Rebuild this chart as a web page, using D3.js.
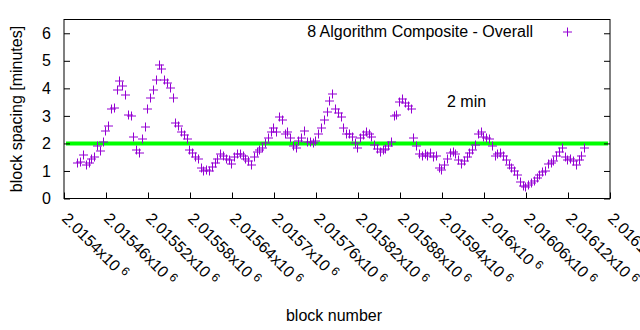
<!DOCTYPE html>
<html>
<head>
<meta charset="utf-8">
<script src="https://cdn.jsdelivr.net/npm/d3@7"></script>
<style>
  body { margin: 0; background: #fff; }
  svg text { font-family: "Liberation Sans", Arial, sans-serif; font-size: 16px; fill: #000; }
</style>
</head>
<body>
<div id="chart-area"></div>
<script>
// block spacing (minutes), sampled every 4 blocks starting at firstBlock
var firstBlock = 2015419;
var blockStep = 4;
var spacing = [
    1.30,1.32,1.58,1.22,1.30,1.42,1.52,1.92,1.72,2.05,
    2.45,2.65,3.25,3.30,3.95,4.25,4.10,3.75,3.05,3.00,
    2.25,1.75,1.65,2.15,2.60,3.25,3.65,3.95,4.30,4.85,
    4.70,4.30,4.20,4.00,3.65,2.75,2.65,2.40,2.30,2.15,
    1.75,1.65,1.50,1.45,1.10,1.00,1.05,1.00,1.15,1.30,
    1.45,1.60,1.55,1.45,1.40,1.25,1.50,1.60,1.60,1.55,
    1.45,1.35,1.20,1.50,1.70,1.75,1.85,2.00,2.20,2.40,
    2.55,2.40,2.95,2.85,2.35,2.40,2.20,1.90,1.85,2.10,
    2.20,2.45,2.05,2.05,2.00,2.10,2.35,2.55,2.85,3.15,
    3.55,3.80,3.25,3.10,2.95,2.55,2.35,2.35,2.25,2.00,
    1.85,2.20,2.30,2.40,2.35,2.25,1.95,1.80,1.70,1.75,
    1.80,1.90,2.05,3.00,3.05,3.50,3.60,3.45,3.35,3.25,
    2.20,1.90,1.60,1.55,1.60,1.55,1.65,1.50,1.55,1.10,
    1.05,1.20,1.45,1.65,1.70,1.60,1.40,1.25,1.35,1.50,
    1.65,1.75,1.95,2.35,2.40,2.25,2.20,2.15,1.90,1.55,
    1.60,1.65,1.55,1.40,1.20,1.10,1.00,0.85,0.60,0.45,
    0.40,0.50,0.55,0.65,0.75,0.85,0.95,1.00,1.25,1.30,
    1.35,1.55,1.70,1.85,1.50,1.40,1.45,1.35,1.20,1.40,
    1.55,1.85
];
var blocks = spacing.map(function(v, i){ return firstBlock + i * blockStep; });

var xTicks = [2015400,2015460,2015520,2015580,2015640,2015700,2015760,
              2015820,2015880,2015940,2016000,2016060,2016120,2016180];
var xTickLabels = ["2.0154","2.01546","2.01552","2.01558","2.01564","2.0157","2.01576",
                   "2.01582","2.01588","2.01594","2.016","2.01606","2.01612","2.01618"];
var yTicks = [0,1,2,3,4,5,6];
var targetSpacing = 2;
var seriesName = "8 Algorithm Composite - Overall";

var width = 640, height = 330;
var margin = { top: 19.5, right: 30, bottom: 132, left: 64 };
var plotW = width - margin.left - margin.right,
    plotH = height - margin.top - margin.bottom;

var x = d3.scaleLinear().domain([2015400, 2016180]).range([0, plotW]);
var y = d3.scaleLinear().domain([0, 6.5]).range([plotH + 0.5, 0]);

var svg = d3.select("#chart-area").append("svg")
    .attr("width", width)
    .attr("height", height)
  .append("g")
    .attr("transform", "translate(" + margin.left + "," + margin.top + ")");

// target line
svg.append("line")
    .attr("x1", 2).attr("x2", plotW - 2)
    .attr("y1", y(targetSpacing)).attr("y2", y(targetSpacing))
    .attr("stroke", "#00ff00")
    .attr("stroke-width", 4);

svg.append("text")
    .attr("x", 383).attr("y", 87.5)
    .text(targetSpacing + " min");

// data points as "+" marks, snapped so the 1px strokes stay sharp
var plus = "M-4.5,0H4.5M0,-4.5V4.5";
function snap(v){ return Math.round(v - 0.5) + 0.5; }
svg.append("g").selectAll("path")
    .data(spacing)
  .enter().append("path")
    .attr("d", plus)
    .attr("transform", function(d, i){ return "translate(" + (Math.round(x(blocks[i])) + 0.5) + "," + snap(y(d)) + ")"; })
    .attr("stroke", "#9400d3")
    .attr("fill", "none");

// frame
svg.append("rect")
    .attr("x", 0).attr("y", 0)
    .attr("width", plotW).attr("height", y(0))
    .attr("fill", "none")
    .attr("stroke", "#000");

// y ticks, inward on both sides
var yAxisL = d3.axisLeft(y).tickValues(yTicks).tickFormat(d3.format("d"))
    .tickSizeInner(-6).tickSizeOuter(0).tickPadding(13);
var gy = svg.append("g").call(yAxisL);
gy.select(".domain").remove();
gy.selectAll("text").style("font-size", "16px").style("font-family", null);
var gyr = svg.append("g").attr("transform", "translate(" + plotW + ",0)")
    .call(d3.axisRight(y).tickValues(yTicks).tickSizeInner(-6).tickSizeOuter(0).tickFormat(""));
gyr.select(".domain").remove();

// x ticks, inward at the bottom
var gx = svg.append("g").attr("transform", "translate(0," + y(0) + ")")
    .call(d3.axisBottom(x).tickValues(xTicks).tickSizeInner(-6).tickSizeOuter(0).tickFormat(""));
gx.select(".domain").remove();

var xl = svg.append("g").selectAll("text")
    .data(xTicks)
  .enter().append("text")
    .attr("transform", function(d){ return "translate(" + (x(d) - 3) + "," + (y(0) + 21) + ") rotate(45)"; });
xl.append("tspan").text(function(d, i){ return xTickLabels[i] + "x10"; });
xl.append("tspan")
    .attr("dx", 4).attr("dy", -5)
    .style("font-size", "12px")
    .text("6");

// axis titles
svg.append("text")
    .attr("transform", "translate(" + (22 - margin.left) + "," + (109 - margin.top) + ") rotate(-90)")
    .attr("text-anchor", "middle")
    .text("block spacing [minutes]");
svg.append("text")
    .attr("x", 334 - margin.left).attr("y", 321 - margin.top)
    .attr("text-anchor", "middle")
    .text("block number");

// key
svg.append("text")
    .attr("x", 533 - margin.left).attr("y", 37 - margin.top)
    .attr("text-anchor", "end")
    .text(seriesName);
svg.append("path")
    .attr("d", plus)
    .attr("transform", "translate(" + (567 - margin.left + 0.5) + "," + (32 - margin.top) + ")")
    .attr("stroke", "#9400d3")
    .attr("fill", "none");
</script>
</body>
</html>
